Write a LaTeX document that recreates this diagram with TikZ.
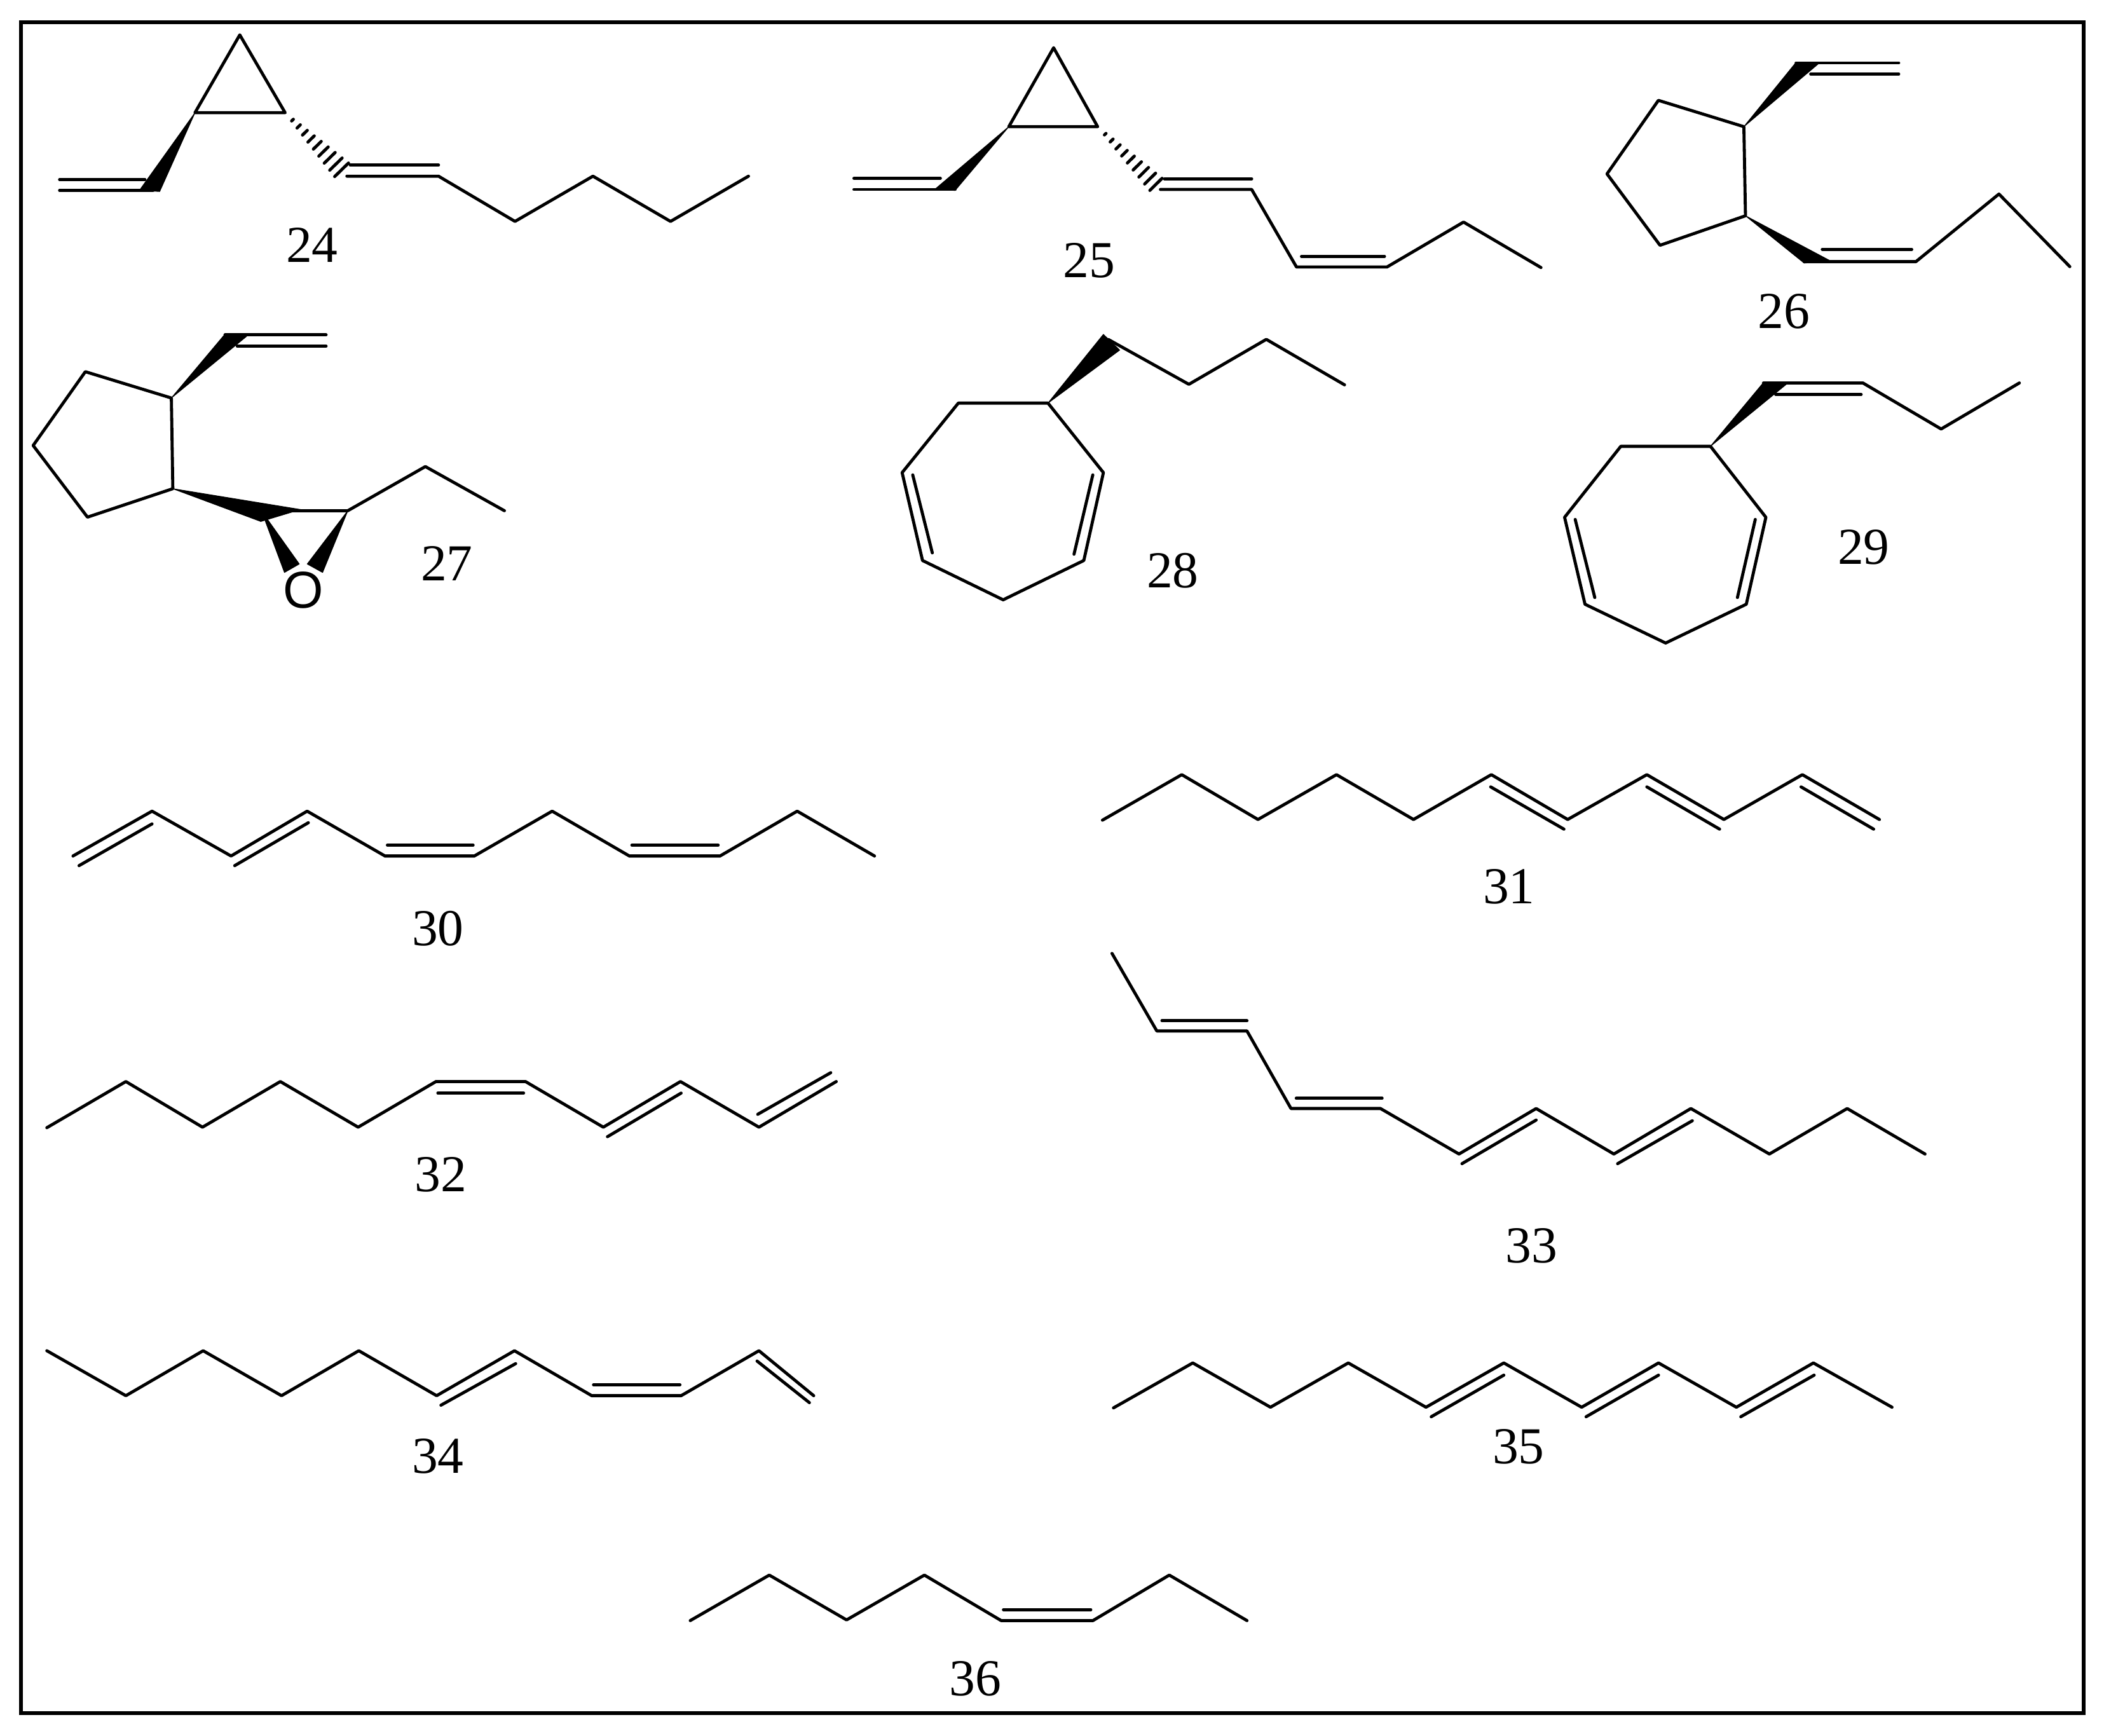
\documentclass[tikz,border=0pt]{standalone}
\usepackage{fontspec}
\setmainfont{Liberation Serif}
\newfontfamily\atomfont{Liberation Sans}
\usepackage{tikz}
\usetikzlibrary{calc}
\tikzset{
         mybond/.style={draw, line width=1.3pt, line join=round, line cap=round},
         myframe/.style={draw, line width=1.65pt},
         mywedge/.style={fill=black, draw=black, line width=.3pt, line join=round},
         myhash/.style={draw, line width=1.3pt, line cap=round},
         mylabel/.style={draw=none, inner sep=0pt, font=\fontsize{22}{24}\selectfont},
         myatom/.style={draw=none, inner sep=0pt, font=\atomfont\fontsize{22}{24}\selectfont}
      }
\newcommand{\myhashbond}[3]{
  \foreach \t in {.13,.24,.35,.46,.57,.68,.79,.9,1}{
    \draw[myhash] ($(#1)!\t!(#2)$) -- ($(#1)!\t!(#3)$);
  }
}
\begin{document}
\begin{tikzpicture}[x=.02cm,y=-.02cm]
  \useasboundingbox (0,0) rectangle (1568,1293.7);
  \draw[myframe] (15.8,16.4) rectangle (1552.7,1276.5);

  % 24
  \draw[mybond] (178.7,26) -- (145.3,84) -- (212.5,84) -- cycle;
  \fill[mywedge] (145.3,84) -- (104,141.8) -- (119,142.7) -- cycle;
  \draw[mybond] (44.4,142) -- (114,142);
  \draw[mybond] (44.4,133.9) -- (108,133.9);
  \coordinate (h24a) at (212.5,84);
  \coordinate (h24b) at (249.4,131.6);
  \coordinate (h24c) at (259.7,121.5);
  \myhashbond{h24a}{h24b}{h24c}
  \draw[mybond] (258.5,131.3) -- (326.8,131.3) -- (383.8,165) -- (441.9,131.3) -- (499.7,165) -- (557.8,131.3);
  \draw[mybond] (261,123) -- (326.8,123);
  \node[mylabel] (n24) at (232.5,182.4) {24};

  % 25
  \draw[mybond] (785.2,35.6) -- (751.8,94.4) -- (818,94.4) -- cycle;
  \fill[mywedge] (751.8,94.4) -- (696.6,141.2) -- (711.8,141.9) -- cycle;
  \draw[mybond] (636.4,141.2) -- (711.8,141.2);
  \draw[mybond] (636.4,132.9) -- (700.8,132.9);
  \coordinate (h25a) at (818,94.4);
  \coordinate (h25b) at (856.9,141.9);
  \coordinate (h25c) at (866,132.9);
  \myhashbond{h25a}{h25b}{h25c}
  \draw[mybond] (864.8,141.2) -- (932.8,141.2) -- (966.2,199) -- (1033.6,199) -- (1090.7,165.5) -- (1148.4,199.4);
  \draw[mybond] (867.8,133.3) -- (932.8,133.3);
  \draw[mybond] (969.9,191) -- (1031.8,191);
  \node[mylabel] (n25) at (811.5,194.4) {25};

  % 26
  \draw[mybond] (1299.6,94.4) -- (1235.9,74.8) -- (1197.6,129.6) -- (1237.1,182.8) -- (1300.8,160.8) -- cycle;
  \fill[mywedge] (1299.6,94.4) -- (1338.5,46.5) -- (1355.5,47.2) -- cycle;
  \draw[mybond] (1338.5,46.9) -- (1415,46.9);
  \draw[mybond] (1349.4,55.2) -- (1415,55.2);
  \fill[mywedge] (1300.8,160.8) -- (1344.5,196) -- (1364,194.4) -- cycle;
  \draw[mybond] (1344.5,195) -- (1427.8,195) -- (1489.7,144.6) -- (1542.5,198.7);
  \draw[mybond] (1358,185.8) -- (1424.7,185.8);
  \node[mylabel] (n26) at (1329.4,232) {26};

  % 27
  \draw[mybond] (127.7,296.6) -- (63.6,277) -- (24.7,332) -- (65.2,385.4) -- (128.8,364.2) -- cycle;
  \fill[mywedge] (127.7,296.6) -- (167.7,249) -- (183.8,250.6) -- cycle;
  \draw[mybond] (167.7,249.6) -- (243,249.6);
  \draw[mybond] (176.8,257.9) -- (243,257.9);
  \fill[mywedge] (128.8,364.2) -- (194.4,388.6) -- (223.9,379.7) -- cycle;
  \draw[mybond] (195,380.6) -- (259.2,380.6) -- (317,347.7) -- (375.9,380.6);
  \fill[mywedge] (195,381) -- (212,426.6) -- (223,420.3) -- cycle;
  \fill[mywedge] (259.2,380.6) -- (229,420.3) -- (240.4,426.6) -- cycle;
  \node[myatom] (o27) at (226,440) {O};
  \node[mylabel] (n27) at (333,420) {27};

  % 28
  \draw[mybond] (781,300.4) -- (714.2,300.4) -- (672.3,352.2) -- (687.5,417.7) -- (747.6,447) -- (807.7,417.7) -- (822.3,352.2) -- cycle;
  \draw[mybond] (680.2,353.9) -- (694.8,412);
  \draw[mybond] (814.4,353.9) -- (800.4,413);
  \fill[mywedge] (781,300.4) -- (822.3,249.2) -- (834.4,260.9) -- cycle;
  \draw[mybond] (826,253) -- (886,286.4) -- (943.7,252.9) -- (1002,286.8);
  \node[mylabel] (n28) at (873.9,425.4) {28};

  % 29
  \draw[mybond] (1274.7,332.6) -- (1207.9,332.6) -- (1166,385.5) -- (1181.2,450.3) -- (1241.3,479.2) -- (1301.4,450.3) -- (1316,385.5) -- cycle;
  \draw[mybond] (1173.9,387.1) -- (1188.5,445.3);
  \draw[mybond] (1308.1,387.1) -- (1294.8,445.3);
  \fill[mywedge] (1274.7,332.6) -- (1314.2,285.1) -- (1331.2,286.4) -- cycle;
  \draw[mybond] (1314.2,285.4) -- (1388.3,285.4) -- (1446.6,319.7) -- (1504.9,285.4);
  \draw[mybond] (1323.3,294) -- (1387,294);
  \node[mylabel] (n29) at (1388.9,408) {29};

  % 30
  \draw[mybond] (54.4,637.9) -- (113.3,604.5) -- (172.2,637.9) -- (228.9,604.5) -- (286.9,637.9) -- (353.5,637.9) -- (411.5,604.5) -- (469,637.9) -- (536.6,637.9) -- (594.1,604.5) -- (651.7,637.9);
  \draw[mybond] (58.9,645.1) -- (113.3,614);
  \draw[mybond] (174.9,645.1) -- (229.8,613.1);
  \draw[mybond] (288.7,629.8) -- (352.6,629.8);
  \draw[mybond] (470.9,629.8) -- (535.2,629.8);
  \node[mylabel] (n30) at (326.3,691.9) {30};

  % 31
  \draw[mybond] (821.6,611.2) -- (880.7,577.3) -- (937.5,610.7) -- (996,577.3) -- (1053.4,610.7) -- (1111.4,577.3) -- (1168.3,610.7) -- (1227.3,577.3) -- (1284.7,610.7) -- (1343.2,577.3) -- (1400.6,610.7);
  \draw[mybond] (1110.9,586.4) -- (1165.5,617.9);
  \draw[mybond] (1227.3,586.4) -- (1281.5,617.9);
  \draw[mybond] (1342.2,586.4) -- (1396.3,617.9);
  \node[mylabel] (n31) at (1124.5,660.9) {31};

  % 32
  \draw[mybond] (34.9,840.4) -- (93.8,806) -- (150.9,840) -- (208.9,806) -- (266.9,840) -- (324.9,806) -- (391.6,806) -- (449.6,840) -- (507.1,806) -- (565.6,840) -- (623.2,806);
  \draw[mybond] (326.3,814.6) -- (390.2,814.6);
  \draw[mybond] (452.7,847.1) -- (507.6,814.6);
  \draw[mybond] (564.7,830.4) -- (619.1,799.4);
  \node[mylabel] (n32) at (328.6,875.3) {32};

  % 33
  \draw[mybond] (828.7,710.5) -- (862.1,768.3) -- (929.3,768.3) -- (962.1,826.1) -- (1028.8,826.1) -- (1087.3,860) -- (1144.8,826.1) -- (1202.7,860) -- (1260.1,826.1) -- (1318.6,860) -- (1376.6,826.1) -- (1434.6,860);
  \draw[mybond] (865.9,760.7) -- (929.3,760.7);
  \draw[mybond] (966,818.5) -- (1030,818.5);
  \draw[mybond] (1089.5,867.2) -- (1144.8,834.7);
  \draw[mybond] (1205.5,867.2) -- (1261.2,835.2);
  \node[mylabel] (n33) at (1141.5,928.3) {33};

  % 34
  \draw[mybond] (34.9,1006.6) -- (93.8,1040.1) -- (151.4,1006.6) -- (209.8,1040.1) -- (267.4,1006.6) -- (325.4,1040.1) -- (383.4,1006.6) -- (441,1040.1) -- (507.6,1040.1) -- (565.6,1006.6) -- (606.4,1040.1);
  \draw[mybond] (328.6,1047.2) -- (384.3,1016.2);
  \draw[mybond] (442.3,1032) -- (506.7,1032);
  \draw[mybond] (564.2,1014.3) -- (603.2,1045.3);
  \node[mylabel] (n34) at (326.3,1085.4) {34};

  % 35
  \draw[mybond] (829.8,1049.2) -- (888.9,1015.7) -- (946.8,1048.7) -- (1004.8,1015.7) -- (1062.7,1048.7) -- (1120.7,1015.7) -- (1178.7,1048.7) -- (1236,1015.7) -- (1294,1048.7) -- (1351.4,1015.7) -- (1410,1048.7);
  \draw[mybond] (1066.6,1055.8) -- (1120.7,1024.8);
  \draw[mybond] (1182,1055.8) -- (1236,1024.8);
  \draw[mybond] (1297.3,1055.8) -- (1352,1024.8);
  \node[mylabel] (n35) at (1131.6,1078.3) {35};

  % 36
  \draw[mybond] (514.4,1207.7) -- (573.3,1173.8) -- (630.9,1207.2) -- (688.9,1173.8) -- (746.1,1207.7) -- (814.5,1207.7) -- (871.4,1173.8) -- (929.3,1207.7);
  \draw[mybond] (747.8,1199.6) -- (812.9,1199.6);
  \node[mylabel] (n36) at (727,1251) {36};
\end{tikzpicture}
\end{document}
